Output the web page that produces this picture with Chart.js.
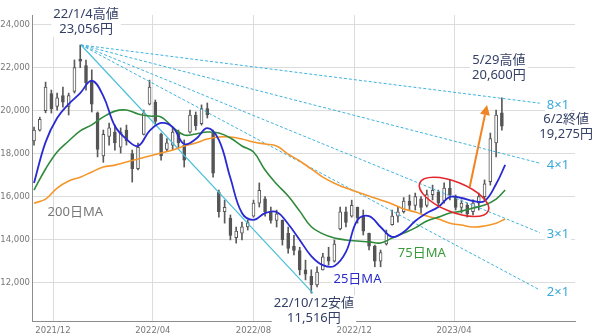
<!DOCTYPE html>
<html lang="ja">
<head>
<meta charset="UTF-8">
<title>株価チャート</title>
<script src="https://cdn.jsdelivr.net/npm/chart.js@4"></script>
<style>
  html, body { margin: 0; padding: 0; background: #fff; }
</style>
</head>
<body>
<canvas id="chart" width="600" height="336"></canvas>
<script>
  // 週足（週の月曜日付）
  const weeks = [
    '2021-11-08','2021-11-15','2021-11-22','2021-11-29','2021-12-06','2021-12-13','2021-12-20','2021-12-27',
    '2022-01-03','2022-01-10','2022-01-17','2022-01-24','2022-01-31','2022-02-07','2022-02-14','2022-02-21',
    '2022-02-28','2022-03-07','2022-03-14','2022-03-21','2022-03-28','2022-04-04','2022-04-11','2022-04-18',
    '2022-04-25','2022-05-02','2022-05-09','2022-05-16','2022-05-23','2022-05-30','2022-06-06','2022-06-13',
    '2022-06-20','2022-06-27','2022-07-04','2022-07-11','2022-07-18','2022-07-25','2022-08-01','2022-08-08',
    '2022-08-15','2022-08-22','2022-08-29','2022-09-05','2022-09-12','2022-09-19','2022-09-26','2022-10-03',
    '2022-10-10','2022-10-17','2022-10-24','2022-10-31','2022-11-07','2022-11-14','2022-11-21','2022-11-28',
    '2022-12-05','2022-12-12','2022-12-19','2022-12-26','2023-01-02','2023-01-09','2023-01-16','2023-01-23',
    '2023-01-30','2023-02-06','2023-02-13','2023-02-20','2023-02-27','2023-03-06','2023-03-13','2023-03-20',
    '2023-03-27','2023-04-03','2023-04-10','2023-04-17','2023-04-24','2023-05-01','2023-05-08','2023-05-15',
    '2023-05-22','2023-05-29'
  ];
  const opens = [
    18600,19100,20000,20800,20200,20700,20200,20900,22400,22100,21400,19900,17900,18800,19000,18300,
    19100,18000,17300,18900,20300,20400,18900,18200,18400,19000,18400,19000,19800,19400,20100,19000,
    16200,15300,15000,14100,14300,14600,15100,15700,15900,15300,14900,14900,14300,13700,13500,12600,
    12300,11900,12600,13200,13000,14500,15300,15100,15500,15100,14300,13700,13000,13800,14700,15100,
    15300,15800,15600,15900,15600,16100,16200,15800,16400,16000,15500,15600,15300,15700,16000,16700,
    18500,19900
  ];
  const highs = [
    19240,19700,21330,20960,20820,21100,20820,22360,23056,22360,21900,19940,19100,19420,19330,19200,
    19330,18170,18490,20030,21420,20500,18960,18700,19240,19100,18640,20030,19940,20270,20360,19100,
    16310,15840,15150,14590,14820,14920,15840,16640,16000,15520,15380,14920,14590,14200,13650,13050,
    12600,12740,13370,13650,13990,15520,15520,15840,15520,15380,14310,13750,13520,14450,15380,15520,
    15960,16080,16170,16000,16310,16540,16310,16640,16780,16080,15850,15700,15850,16170,16780,18960,
    20030,20600
  ];
  const lows = [
    18400,19050,19900,19890,20030,20170,19800,20820,22000,20960,19940,17850,17600,18400,18170,18030,
    18400,16680,17240,18870,20270,19330,17700,18100,18170,18270,17380,18960,19100,19330,19660,16910,
    15050,14770,13990,13840,13990,14450,15050,15520,15100,14770,14590,13750,13370,13290,12360,12130,
    11516,11800,12590,12820,12960,14450,14590,15050,14770,14220,13520,12740,12740,13750,14680,14820,
    15240,15380,15380,15240,15520,15850,15520,15700,15850,15380,15240,15050,15150,15380,15850,16540,
    17850,19100
  ];
  const closes = [
    19100,19600,21100,20100,20600,20400,20700,22000,22300,21300,20300,18200,18900,19200,18500,19000,
    18600,17300,18300,19900,21100,19500,17900,18500,19000,18500,17700,19800,19300,20100,19800,17100,
    15300,15500,14200,14400,14600,14800,15700,16300,15300,14900,15200,14000,13600,13500,12600,12400,
    11900,12500,13200,13000,13800,15300,14800,15600,15000,14400,13700,13000,13400,14300,15100,15300,
    15800,15600,16000,15500,16100,16300,15700,16400,16100,15500,15700,15200,15700,16000,16600,18700,
    19800,19275
  ];

  // 移動平均（2週ごと）
  const maDates = [
    '2021-11-08','2021-11-22','2021-12-06','2021-12-20','2022-01-03','2022-01-17','2022-01-31','2022-02-14',
    '2022-02-28','2022-03-14','2022-03-28','2022-04-11','2022-04-25','2022-05-09','2022-05-23','2022-06-06',
    '2022-06-20','2022-07-04','2022-07-18','2022-08-01','2022-08-15','2022-08-29','2022-09-12','2022-09-26',
    '2022-10-10','2022-10-24','2022-11-07','2022-11-21','2022-12-05','2022-12-19','2023-01-02','2023-01-16',
    '2023-01-30','2023-02-13','2023-02-27','2023-03-13','2023-03-27','2023-04-10','2023-04-24','2023-05-08',
    '2023-05-22','2023-06-02'
  ];
  const ma25 = [
    16640,18540,19660,20310,20820,21400,20680,19290,18680,18360,19060,19430,19240,18450,18680,19190,
    18640,16870,15240,14920,15240,15290,14730,13990,13240,12820,12780,13430,14920,15100,14590,14130,
    14360,14870,15240,15520,15990,15940,15800,15800,16590,17480
  ];
  const ma75 = [
    16310,17290,18080,18590,19060,19340,19710,19980,20030,19850,19750,19710,19240,18870,18920,19010,
    18960,18730,18360,18080,17240,16590,16030,15330,14600,14270,14080,13990,13940,13900,13850,14080,
    14310,14550,14870,15050,15240,15330,15470,15610,15890,16310
  ];
  const ma200 = [
    15700,15890,16400,16730,16910,17150,17380,17470,17610,17750,17890,18030,18170,18360,18500,18680,
    18780,18780,18680,18540,18450,18360,17980,17660,17290,16910,16630,16400,16220,16030,15850,15660,
    15430,15290,15100,14960,14770,14680,14590,14640,14770,14960
  ];

  // ギャン・ファン
  const fanStart = ['2022-01-04', 23056];
  const lowPoint = ['2022-10-12', 11516];
  const fanEndDate = '2023-07-14';
  const fanNames = ['8×1', '4×1', '3×1', '2×1'];
  const fanEndValues = [20350, 17560, 14330, 11660];

  const yTicks = [12000, 14000, 16000, 18000, 20000, 22000, 24000];
  const xTickLabels = ['2021/12', '2022/04', '2022/08', '2022/12', '2023/04'];

  const base = Date.parse('2021-12-01');
  const dayOf = s => Math.round((Date.parse(s) - base) / 864e5);
  const monthDay = l => dayOf(l.replace('/', '-') + '-01');

  const candleX = weeks.map(dayOf);
  const wickData = candleX.map((x, i) => ({ x, y: [lows[i], highs[i]] }));
  const bodyData = candleX.map((x, i) => ({ x, y: [opens[i], closes[i]] }));
  const maLine = vals => maDates.map((d, i) => ({ x: dayOf(d), y: vals[i] }));

  const fanSets = fanEndValues.map(v => ({
    type: 'line',
    data: [{ x: dayOf(fanStart[0]), y: fanStart[1] }, { x: dayOf(fanEndDate), y: v }],
    borderColor: '#3fb3dd', borderWidth: 1, borderDash: [3, 2],
    pointRadius: 0, order: 2
  }));

  // 注記
  const notes = [
    { at: fanStart, dx: 5, dy: -31, lines: ['22/1/4高値', '23,056円'], color: '#333f66', bg: true },
    { at: lowPoint, dx: 1, dy: 10, lines: ['22/10/12安値', '11,516円'], color: '#333f66', bg: true },
    { at: ['2023-05-29', 20600], dx: -3, dy: -38, lines: ['5/29高値', '20,600円'], color: '#333f66', bg: true },
    { at: ['2023-06-02', 19275], dx: 61, dy: -7, lines: ['6/2終値', '19,275円'], color: '#333f66', bg: true },
    { at: ['2021-12-28', 15290], dx: 0, dy: 0, lines: ['200日MA'], color: '#777777' },
    { at: ['2022-12-05', 12166], dx: 0, dy: 0, lines: ['25日MA'], color: '#2b2bc8', bg: true },
    { at: ['2023-02-21', 13380], dx: 0, dy: 0, lines: ['75日MA'], color: '#3a9a3a' }
  ];
  fanNames.forEach((name, i) => notes.push({
    at: [fanEndDate, fanEndValues[i]], dx: 7, dy: 2, lines: [name], color: '#3ca9dc', align: 'left', bg: true
  }));
  const circleAt = ['2023-04-01', 15990];
  const arrowFrom = ['2023-04-20', 16450];
  const arrowTo = ['2023-05-11', 20265];

  const notesPlugin = {
    id: 'notes',
    afterDatasetsDraw(chart) {
      const { ctx, scales: { x, y } } = chart;
      const px = p => x.getPixelForValue(dayOf(p[0]));
      const py = p => y.getPixelForValue(p[1]);
      ctx.save();

      // 赤い楕円
      ctx.strokeStyle = '#e3262b';
      ctx.lineWidth = 1.6;
      ctx.beginPath();
      ctx.ellipse(px(circleAt), py(circleAt), 37, 15, 22 * Math.PI / 180, 0, Math.PI * 2);
      ctx.stroke();

      // オレンジの矢印
      const x1 = px(arrowFrom), y1 = py(arrowFrom), x2 = px(arrowTo), y2 = py(arrowTo);
      const a = Math.atan2(y2 - y1, x2 - x1);
      const hl = 10, hw = 5;
      ctx.strokeStyle = '#f08424';
      ctx.fillStyle = '#f08424';
      ctx.lineWidth = 2;
      ctx.beginPath();
      ctx.moveTo(x1, y1);
      ctx.lineTo(x2 - hl * Math.cos(a), y2 - hl * Math.sin(a));
      ctx.stroke();
      ctx.beginPath();
      ctx.moveTo(x2, y2);
      ctx.lineTo(x2 - hl * Math.cos(a) + hw * Math.sin(a), y2 - hl * Math.sin(a) - hw * Math.cos(a));
      ctx.lineTo(x2 - hl * Math.cos(a) - hw * Math.sin(a), y2 - hl * Math.sin(a) + hw * Math.cos(a));
      ctx.closePath();
      ctx.fill();

      // テキスト
      ctx.font = '13px "Noto Sans", "Noto Sans CJK JP", sans-serif';
      ctx.textBaseline = 'middle';
      notes.forEach(n => {
        const ax = px(n.at) + n.dx;
        const ay = py(n.at) + n.dy;
        const align = n.align || 'center';
        ctx.textAlign = align;
        if (n.bg) {
          const w = Math.max(...n.lines.map(l => ctx.measureText(l).width));
          const left = align === 'left' ? ax - 2 : ax - w / 2 - 2;
          ctx.fillStyle = '#fff';
          ctx.fillRect(left, ay - 8, w + 4, 15 * (n.lines.length - 1) + 16);
        }
        ctx.fillStyle = n.color;
        n.lines.forEach((l, i) => ctx.fillText(l, ax, ay + i * 15));
      });
      ctx.restore();
    }
  };

  const tickFont = { family: 'DejaVu Sans', size: 8.5 };

  new Chart(document.getElementById('chart'), {
    type: 'line',
    data: {
      datasets: [
        { label: '25日MA', data: maLine(ma25), borderColor: '#2a2ad2', borderWidth: 1.8, pointRadius: 0, tension: 0.4, order: 0 },
        { label: '75日MA', data: maLine(ma75), borderColor: '#2f8a3c', borderWidth: 1.6, pointRadius: 0, tension: 0.4, order: 1 },
        { label: '200日MA', data: maLine(ma200), borderColor: '#f5962a', borderWidth: 1.6, pointRadius: 0, tension: 0.4, order: 1 },
        {
          label: '1×1',
          data: [{ x: dayOf(fanStart[0]), y: fanStart[1] }, { x: dayOf(lowPoint[0]), y: lowPoint[1] }],
          borderColor: '#4bbfd9', borderWidth: 1.2, pointRadius: 0, order: 2
        },
        ...fanSets,
        {
          type: 'bar', label: 'wick', data: wickData, grouped: false,
          barThickness: 1, backgroundColor: '#5a5a5a', borderWidth: 0, order: 10
        },
        {
          type: 'bar', label: 'body', data: bodyData, grouped: false,
          barThickness: 3, borderColor: '#555', borderWidth: 1, borderSkipped: false,
          backgroundColor: ctx => {
            const i = ctx.dataIndex;
            return closes[i] >= opens[i] ? '#ffffff' : '#555';
          },
          order: 9
        }
      ]
    },
    options: {
      responsive: false,
      animation: false,
      layout: { padding: { top: 15, right: 25, left: 0, bottom: 0 } },
      plugins: { legend: { display: false }, tooltip: { enabled: false } },
      scales: {
        x: {
          type: 'linear', min: -25.45, max: 632.6, offset: false,
          afterBuildTicks: s => { s.ticks = xTickLabels.map(l => ({ value: monthDay(l) })); },
          afterFit: s => { s.height = 15; },
          grid: { color: '#dcdcdc', drawTicks: false, offset: false },
          border: { color: '#8c8c8c' },
          ticks: {
            padding: 5, font: tickFont, color: '#777', maxRotation: 0, autoSkip: false,
            callback: (v, i) => xTickLabels[i]
          }
        },
        y: {
          min: 10219, max: 24451, beginAtZero: false,
          afterBuildTicks: s => { s.ticks = yTicks.map(v => ({ value: v })); },
          afterFit: s => { s.width = 32; },
          grid: { color: '#dcdcdc', drawTicks: false },
          border: { color: '#8c8c8c' },
          ticks: {
            padding: 2, font: tickFont, color: '#777',
            callback: v => v.toLocaleString('en-US')
          }
        }
      }
    },
    plugins: [notesPlugin]
  });
</script>
</body>
</html>
